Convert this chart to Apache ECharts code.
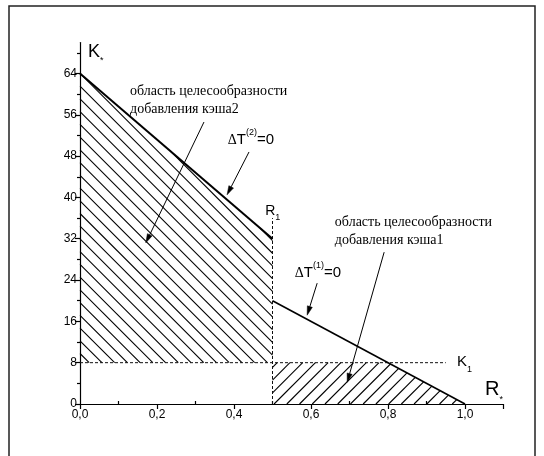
<!DOCTYPE html>
<html>
<head>
<meta charset="utf-8">
<script src="https://cdn.jsdelivr.net/npm/echarts@6/dist/echarts.min.js"></script>
<style>
html, body { margin: 0; padding: 0; background: #fff; }
#chart { width: 544px; height: 456px; }
</style>
</head>
<body>
<div id="chart"></div>
<script>
// Axis ticks and labels
const xMajorTicks = [0, 0.2, 0.4, 0.6, 0.8, 1.0];
const xMinorTicks = [0.1, 0.3, 0.5, 0.7, 0.9];
const xTickLabels = ['0,0', '0,2', '0,4', '0,6', '0,8', '1,0'];
const yMajorTicks = [0, 8, 16, 24, 32, 40, 48, 56, 64];
const yMinorTicks = [4, 12, 20, 28, 36, 44, 52, 60, 68];

// Boundary ΔT(2)=0 and ΔT(1)=0
const curveT2 = [[0, 64], [0.5, 32]];
const curveT1 = [[0.5, 20], [1.0, 0]];
// Threshold lines R1 and K1
const lineR1 = [[0.5, 0], [0.5, 36]];
const lineK1 = [[0, 8], [0.95, 8]];
// Regions where adding a cache pays off
const regionCache2 = [[0, 8], [0, 64], [0.5, 32], [0.5, 8]];
const regionCache1 = [[0.5, 0], [0.5, 8], [0.8, 8], [1.0, 0]];

// Annotation anchors (data coordinates, text baseline at left edge)
const noteCache2 = [[0.130, 59.5], [0.130, 56.1]];
const noteCache1 = [[0.662, 34.2], [0.662, 30.8]];
const noteT2 = [0.384, 50.1];
const noteT1 = [0.558, 24.3];
const noteR1 = [0.481, 36.3];
const noteK1 = [0.979, 7.2];
const noteK = [0.021, 67.0];
const noteR = [1.052, 1.4];
// Arrows: [tail, tip]
const arrows = [
  [[0.322, 54.6], [0.171, 31.2]],
  [[0.439, 48.8], [0.382, 40.5]],
  [[0.616, 23.4], [0.590, 17.2]],
  [[0.790, 29.4], [0.694, 4.2]]
];

const SANS = '"Liberation Sans", Arial, sans-serif';
const SERIF = '"Liberation Serif", "Times New Roman", serif';

const chart = echarts.init(document.getElementById('chart'), null, { renderer: 'canvas', devicePixelRatio: 1 });

// Parallel hatch segments clipped to a convex polygon (pixel space)
function hatchSegments(pts, angleDeg, step, anchor) {
  const a = angleDeg * Math.PI / 180;
  const d = [Math.cos(a), Math.sin(a)];
  const n = [-d[1], d[0]];
  const proj = p => p[0] * n[0] + p[1] * n[1];
  const along = p => p[0] * d[0] + p[1] * d[1];
  const vals = pts.map(proj);
  const lo = Math.min.apply(null, vals), hi = Math.max.apply(null, vals);
  const base = proj(anchor);
  const segs = [];
  for (let k = Math.ceil((lo - base) / step - 1e-6); base + k * step <= hi + 1e-6; k++) {
    const c = base + k * step;
    const hits = [];
    for (let i = 0; i < pts.length; i++) {
      const p = pts[i], q = pts[(i + 1) % pts.length];
      const fp = proj(p) - c, fq = proj(q) - c;
      if ((fp <= 0 && fq >= 0) || (fp >= 0 && fq <= 0)) {
        if (Math.abs(fp - fq) < 1e-9) { hits.push(p, q); continue; }
        const t = fp / (fp - fq);
        hits.push([p[0] + t * (q[0] - p[0]), p[1] + t * (q[1] - p[1])]);
      }
    }
    if (hits.length < 2) continue;
    hits.sort((u, v) => along(u) - along(v));
    const s = hits[0], e = hits[hits.length - 1];
    if (Math.hypot(e[0] - s[0], e[1] - s[1]) < 1) continue;
    segs.push([s, e]);
  }
  return segs;
}

const hatchAreas = [
  { pts: regionCache2, angle: 45, step: 9.0, anchor: regionCache2[1] },
  { pts: regionCache1, angle: -45, step: 9.0, anchor: regionCache1[3] }
];

function lineSeries(data, width, dashed, color) {
  return {
    type: 'line', data: data, symbol: 'none', silent: true, z: 4,
    lineStyle: { color: color, width: width, type: dashed ? [3, 2] : 'solid' }
  };
}

chart.setOption({
  animation: false,
  backgroundColor: '#fff',
  grid: { left: 80, right: 40.5, top: 42.5, bottom: 52, containLabel: false },
  xAxis: [{
    type: 'value', min: 0, max: 1.1, position: 'bottom',
    axisLine: { onZero: false, lineStyle: { color: '#000', width: 1.2 } },
    axisTick: { customValues: xMajorTicks.concat([1.1]), length: 5, lineStyle: { color: '#000', width: 1.2 } },
    axisLabel: {
      customValues: xMajorTicks, margin: 5,
      formatter: v => xTickLabels[xMajorTicks.findIndex(t => Math.abs(t - v) < 1e-6)] || '',
      color: '#000', fontFamily: SANS, fontSize: 12
    },
    splitLine: { show: false }
  }, {
    type: 'value', min: 0, max: 1.1, position: 'bottom',
    axisLine: { show: false, onZero: false },
    axisTick: { customValues: xMinorTicks, inside: true, length: 3, lineStyle: { color: '#000', width: 1.2 } },
    axisLabel: { show: false },
    splitLine: { show: false }
  }],
  yAxis: [{
    type: 'value', min: 0, max: 70, position: 'left',
    axisLine: { show: true, onZero: false, lineStyle: { color: '#000', width: 1.2 } },
    axisTick: { customValues: yMajorTicks, length: 5, lineStyle: { color: '#000', width: 1.2 } },
    axisLabel: { customValues: yMajorTicks, margin: 3, color: '#000', fontFamily: SANS, fontSize: 12 },
    splitLine: { show: false }
  }, {
    type: 'value', min: 0, max: 70, position: 'left',
    axisLine: { show: false, onZero: false },
    axisTick: { customValues: yMinorTicks, length: 3, lineStyle: { color: '#000', width: 1.2 } },
    axisLabel: { show: false },
    splitLine: { show: false }
  }],
  series: [
    {
      type: 'custom', coordinateSystem: 'cartesian2d', silent: true, z: 2,
      data: hatchAreas.map(() => [0, 0]),
      renderItem: (params, api) => {
        const area = hatchAreas[params.dataIndex];
        const px = area.pts.map(p => api.coord(p));
        const segs = hatchSegments(px, area.angle, area.step, api.coord(area.anchor));
        return {
          type: 'group',
          children: segs.map(s => ({
            type: 'line',
            shape: { x1: s[0][0], y1: s[0][1], x2: s[1][0], y2: s[1][1] },
            style: { stroke: '#000', lineWidth: 1.1 }
          }))
        };
      }
    },
    lineSeries(lineK1, 1, true, '#111'),
    lineSeries(lineR1, 1, true, '#111'),
    lineSeries(curveT2, 2, false, '#000'),
    lineSeries(curveT1, 1.6, false, '#000')
  ]
});

// Text runs laid out left to right from a baseline anchor
const measureCtx = document.createElement('canvas').getContext('2d');
function runElements(anchor, runs) {
  const p = chart.convertToPixel({ gridIndex: 0 }, anchor);
  let x = p[0];
  const out = [];
  runs.forEach(r => {
    const font = r.size + 'px ' + r.family;
    measureCtx.font = font;
    const w = measureCtx.measureText(r.t).width;
    const baseline = p[1] + (r.dy || 0);
    out.push({
      type: 'text', silent: true, z: 10, x: x, y: baseline - 0.85 * r.size,
      style: { text: r.t, font: font, fill: '#000', align: 'left', verticalAlign: 'top', textAlign: 'left', textVerticalAlign: 'top' }
    });
    x += w + (r.gap || 0);
  });
  return out;
}

function arrowElements(tail, tip) {
  const a = chart.convertToPixel({ gridIndex: 0 }, tail);
  const b = chart.convertToPixel({ gridIndex: 0 }, tip);
  const dx = b[0] - a[0], dy = b[1] - a[1];
  const L = Math.hypot(dx, dy);
  const ux = dx / L, uy = dy / L;
  const headLen = 9, headHalf = 2.6;
  const bx = b[0] - ux * headLen, by = b[1] - uy * headLen;
  return [{
    type: 'line', silent: true, z: 10,
    shape: { x1: a[0], y1: a[1], x2: bx, y2: by },
    style: { stroke: '#000', lineWidth: 1 }
  }, {
    type: 'polygon', silent: true, z: 10,
    shape: { points: [[b[0], b[1]], [bx - uy * headHalf, by + ux * headHalf], [bx + uy * headHalf, by - ux * headHalf]] },
    style: { fill: '#000', stroke: '#000', lineWidth: 0.5 }
  }];
}

// Outer frame, labels and pointer arrows
const graphics = [{
  type: 'rect', silent: true, z: 0,
  shape: { x: 9, y: 6, width: 526, height: 470 },
  style: { fill: null, stroke: '#222', lineWidth: 1.5 }
}];
const serifLine = (anchor, t) => runElements(anchor, [{ t: t, size: 14, family: SERIF }]);
graphics.push.apply(graphics, serifLine(noteCache2[0], 'область целесообразности'));
graphics.push.apply(graphics, serifLine(noteCache2[1], 'добавления кэша2'));
graphics.push.apply(graphics, serifLine(noteCache1[0], 'область целесообразности'));
graphics.push.apply(graphics, serifLine(noteCache1[1], 'добавления кэша1'));
graphics.push.apply(graphics, runElements(noteT2, [
  { t: 'Δ', size: 14, family: SERIF }, { t: 'T', size: 15, family: SANS },
  { t: '(2)', size: 9, family: SANS, dy: -10 }, { t: '=0', size: 15, family: SANS }
]));
graphics.push.apply(graphics, runElements(noteT1, [
  { t: 'Δ', size: 14, family: SERIF }, { t: 'T', size: 15, family: SANS },
  { t: '(1)', size: 9, family: SANS, dy: -10 }, { t: '=0', size: 15, family: SANS }
]));
graphics.push.apply(graphics, runElements(noteR1, [
  { t: 'R', size: 14, family: SANS }, { t: '1', size: 9, family: SANS, dy: 4 }
]));
graphics.push.apply(graphics, runElements(noteK1, [
  { t: 'K', size: 15, family: SANS }, { t: '1', size: 9, family: SANS, dy: 6 }
]));
graphics.push.apply(graphics, runElements(noteK, [
  { t: 'K', size: 18, family: SANS }, { t: '*', size: 9, family: SANS, dy: 6 }
]));
graphics.push.apply(graphics, runElements(noteR, [
  { t: 'R', size: 20, family: SANS }, { t: '*', size: 9, family: SANS, dy: 6 }
]));
arrows.forEach(ar => graphics.push.apply(graphics, arrowElements(ar[0], ar[1])));

chart.setOption({ graphic: graphics });
</script>
</body>
</html>
